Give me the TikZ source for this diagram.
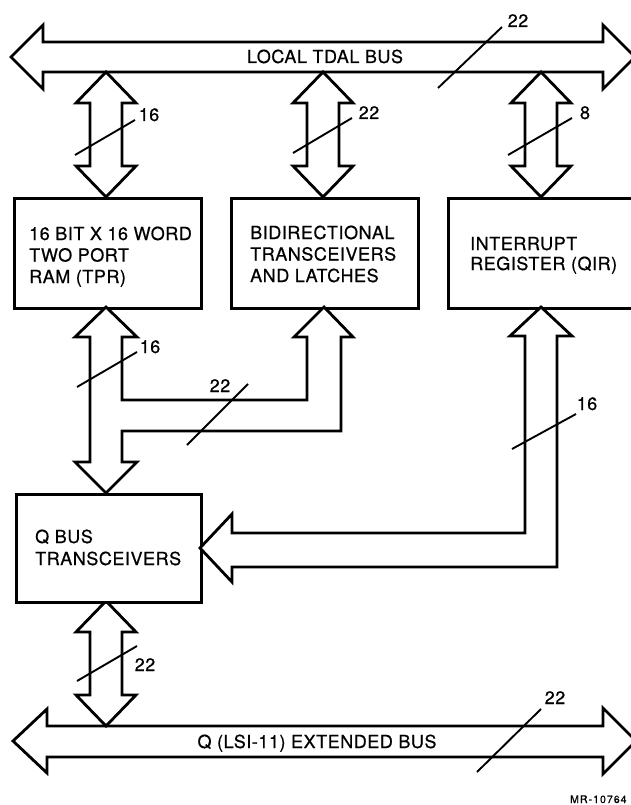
\documentclass[tikz,border=0pt]{standalone}
\usepackage{fontspec}
\setmainfont[LetterSpace=3,FakeBold=0.6]{TeX Gyre Heros}
\newfontfamily\mrfont[LetterSpace=10,FakeBold=0.8]{TeX Gyre Heros}
\newcommand\vdarrow[3]{%
  \draw[outline] (#1,#2) -- ({#1+30},{#2+31}) -- ({#1+16},{#2+31}) -- ({#1+16},{#3-31})
    -- ({#1+30},{#3-31}) -- (#1,#3) -- ({#1-30},{#3-31}) -- ({#1-16},{#3-31})
    -- ({#1-16},{#2+31}) -- ({#1-30},{#2+31}) -- cycle;}
\begin{document}
\begin{tikzpicture}[x=1pt,y=-1pt,
  outline/.style={line width=2.8pt, line join=miter, fill=white},
  box/.style={draw, line width=2.8pt, fill=white, anchor=north west, inner sep=0pt},
  slash/.style={line width=1.9pt},
  num/.style={font=\fontsize{18}{21.5}\selectfont, inner sep=0pt, anchor=base},
  boxtxt/.style={font=\fontsize{18}{21.5}\selectfont, align=left, inner sep=0pt, anchor=base west}]
\useasboundingbox (0,0) rectangle (631,805);
% buses
\draw[outline] (11,57) -- (43,25) -- (43,42) -- (603,42) -- (603,25) -- (635,57) -- (603,89) -- (603,72) -- (43,72) -- (43,89) -- cycle;
\draw[outline] (13,741) -- (47,709) -- (47,726) -- (603,726) -- (603,708) -- (636,741) -- (603,774) -- (603,757) -- (47,757) -- (47,773) -- cycle;
\node[num, anchor=base] (localbus) at (325,63) {LOCAL TDAL BUS};
\node[num, anchor=base] (qbus) at (317,748) {Q (LSI-11) EXTENDED BUS};
% vertical arrows
\vdarrow{106}{72}{197}
\vdarrow{323}{72}{197}
\vdarrow{541}{72}{197}
\vdarrow{106}{601}{726}
% boxes
\node[box, minimum width=187pt, minimum height=110pt] (tpr) at (13,197) {};
\node[box, minimum width=187pt, minimum height=110pt] (bdt) at (230,197) {};
\node[box, minimum width=200pt, minimum height=110pt] (qir) at (447,197) {};
\node[box, minimum width=185pt, minimum height=108pt] (qbt) at (15,493) {};
\node[boxtxt] (tprtxt) at (29,283) {16 BIT X 16 WORD\\TWO PORT\\RAM (TPR)};
\node[boxtxt] (bdttxt) at (250,282) {BIDIRECTIONAL\\TRANSCEIVERS\\AND LATCHES};
\node[boxtxt, font=\fontsize{18}{20}\selectfont] (qirtxt) at (470,270) {INTERRUPT\\REGISTER (QIR)};
\node[boxtxt, font=\fontsize{18}{22}\selectfont] (qbttxt) at (35,565) {Q BUS\\TRANSCEIVERS};
% T-shaped arrow between TPR, BDT and Q bus transceivers
\draw[outline] (106,307) -- (137,337) -- (122,337) -- (122,400) -- (307,400) -- (307,337) -- (294,337)
  -- (324,307) -- (353,337) -- (341,337) -- (341,431) -- (122,431) -- (122,462) -- (137,462)
  -- (106,493) -- (75,462) -- (90,462) -- (90,337) -- (75,337) -- cycle;
% L-shaped arrow from Q bus transceivers to QIR
\draw[outline] (541,307) -- (572,336) -- (557,336) -- (557,567) -- (232,567) -- (232,582)
  -- (200,548) -- (232,514) -- (232,533) -- (525,533) -- (525,336) -- (510,336) -- cycle;
% slashes and widths
\draw[slash] (438,88) -- (502,27);
\node[num] (w1) at (518,27) {22};
\draw[slash] (75,155) -- (135,120);
\node[num] (w2) at (149,121) {16};
\draw[slash] (293,153) -- (352,118);
\node[num] (w3) at (369,119) {22};
\draw[slash] (508,155) -- (572,118);
\node[num] (w4) at (585,119) {8};
\draw[slash] (77,387) -- (137,352);
\node[num] (w5) at (150,353) {16};
\draw[slash] (187,445) -- (248,384);
\node[num] (w6) at (220,392) {22};
\draw[slash] (512,449) -- (576,414);
\node[num] (w7) at (587,410) {16};
\draw[slash] (77,681) -- (137,646);
\node[num] (w8) at (145,671) {22};
\draw[slash] (477,772) -- (541,709);
\node[num] (w9) at (555,704) {22};
\node[inner sep=0pt, anchor=base west, font=\mrfont\fontsize{10.5}{12}\selectfont] (mr) at (570,803) {MR-10764};
\end{tikzpicture}
\end{document}
